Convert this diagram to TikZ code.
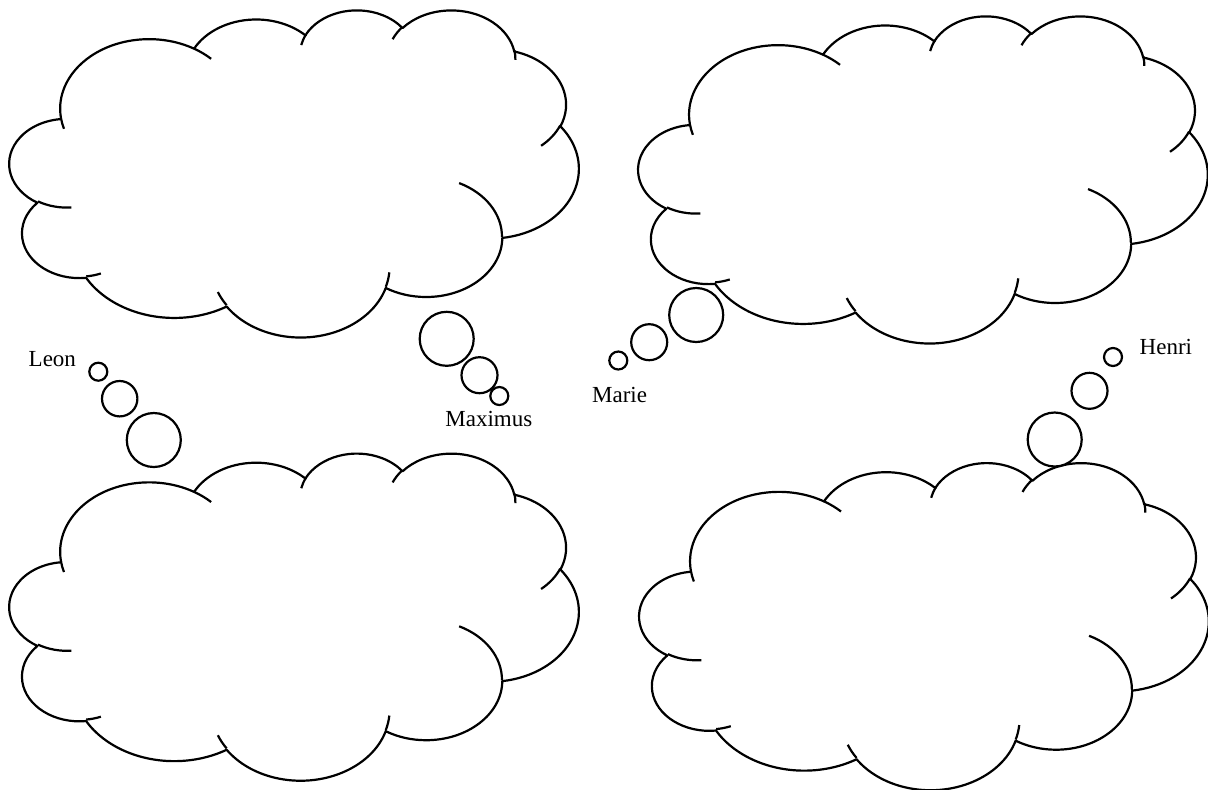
\documentclass[tikz,border=0pt]{standalone}
\usepackage{fontspec}
\setmainfont{Liberation Serif}
% puff = elliptic arc given by radii, visual start angle and sweep
\pgfmathdeclarefunction{pang}{3}{\begingroup\pgfmathparse{atan2(#1*sin(#3),#2*cos(#3))}\pgfmathsmuggle\pgfmathresult\endgroup}
\pgfmathdeclarefunction{pswp}{4}{\begingroup\pgfmathparse{mod(atan2(#1*sin(#3+#4),#2*cos(#3+#4))-atan2(#1*sin(#3),#2*cos(#3))+720,360)}\pgfmathsmuggle\pgfmathresult\endgroup}
\newcommand\puff[4]{arc[start angle={pang(#1,#2,#3)}, delta angle={pswp(#1,#2,#3,#4)}, x radius=#1, y radius=#2]}
\tikzset{
  ink/.style={line width=1.1pt, line join=round},
  bubble/.style={ink, draw, fill=white},
  who/.style={anchor=base west, inner sep=0pt, font=\fontsize{11.5}{14}\selectfont},
  thought/.pic={
    \draw[ink, fill=white] (39.00,143.70)
      \puff{67.53}{91.90}{-190.4875}{123.7805}
      \puff{53.33}{72.67}{-144.1024}{89.9452}
      \puff{43.65}{59.45}{-145.8079}{99.7230}
      \puff{48.57}{65.95}{-130.9861}{117.2417}
      \puff{53.33}{72.73}{-78.7089}{109.0269}
      \puff{67.75}{92.20}{-46.2673}{130.2690}
      \puff{57.85}{78.67}{0.6250}{114.0333}
      \puff{67.52}{92.15}{22.4516}{115.1726}
      \puff{77.20}{105.43}{66.2426}{75.7110}
      \puff{43.60}{59.18}{-274.9421}{146.7356}
      \puff{43.45}{59.45}{-246.8285}{152.5189} -- cycle;
    % inner strokes
    \draw[ink] (46.93,261.77) \puff{43.45}{59.45}{86.7420}{26.4295}
      (69.28,348.99) \puff{43.60}{59.18}{73.6105}{11.4475}
      (164.78,390.90) \puff{67.52}{92.15}{137.6242}{14.0811}
      (288.27,347.51) \puff{67.52}{92.15}{6.4533}{15.9984}
      (341.29,229.54) \puff{57.85}{78.67}{-70.2924}{70.9174}
      (417.98,153.54) \puff{53.33}{72.73}{30.3180}{27.7515}
      (383.24,54.26) \puff{48.57}{65.95}{-13.7443}{14.8589}
      (290.78,39.52) \puff{48.57}{65.95}{-149.1815}{18.1954}
      (221.41,47.20) \puff{43.65}{59.45}{-163.4943}{17.6864}
      (140.00,51.92) \puff{67.53}{91.90}{-66.7070}{12.3194}
      (41.27,157.89) \puff{67.53}{91.90}{157.6544}{11.8582};
  }
}
\begin{document}
\begin{tikzpicture}[x=0.5pt,y=-0.5pt]
\useasboundingbox (0,0) rectangle (1208,789);
% clouds
\begin{scope}[shift={(9.6,9.3)}, x=0.6586pt, y=-0.3785pt]
  \pic {thought};
\end{scope}
\begin{scope}[shift={(638.5,15.3)}, x=0.6586pt, y=-0.3785pt]
  \pic {thought};
\end{scope}
\begin{scope}[shift={(9.6,452.5)}, x=0.6586pt, y=-0.3785pt]
  \pic {thought};
\end{scope}
\begin{scope}[shift={(639.5,462)}, x=0.6586pt, y=-0.3785pt]
  \pic {thought};
\end{scope}
% bubbles
\draw[bubble] (98.3,371.7) circle[radius=9];
\draw[bubble] (119.7,398.7) circle[radius=17.7];
\draw[bubble] (153.8,440) circle[radius=27];
\draw[bubble] (446.7,338.8) circle[radius=27];
\draw[bubble] (479.5,375.2) circle[radius=18];
\draw[bubble] (499.3,396) circle[radius=9];
\draw[bubble] (618.3,360.5) circle[radius=9];
\draw[bubble] (649.2,342.2) circle[radius=18];
\draw[bubble] (696.2,315) circle[radius=27];
\draw[bubble] (1113,357) circle[radius=9];
\draw[bubble] (1089.5,390.8) circle[radius=18];
\draw[bubble] (1054.7,439.5) circle[radius=27];
% names
\node[who] (leon) at (28.3,366.7) {Leon};
\node[who] (maximus) at (445,426.7) {Maximus};
\node[who] (marie) at (591.7,402.7) {Marie};
\node[who] (henri) at (1139.3,354) {Henri};
\end{tikzpicture}
\end{document}
